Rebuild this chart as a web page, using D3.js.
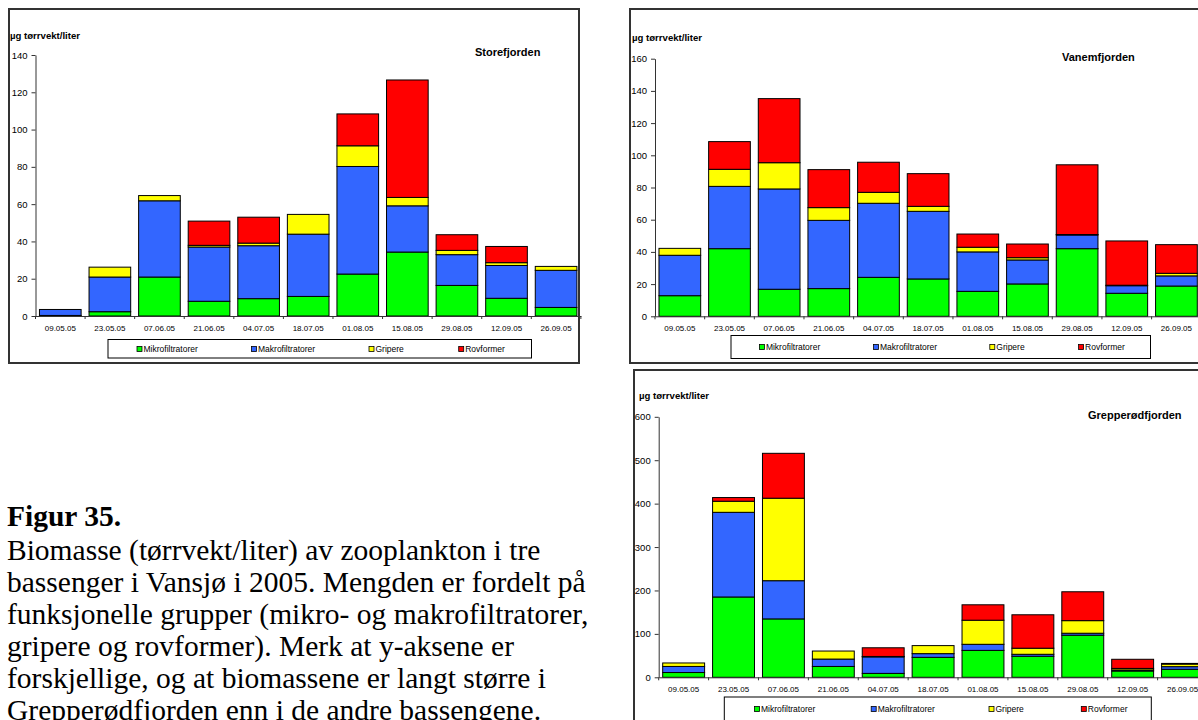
<!DOCTYPE html>
<html>
<head>
<meta charset="utf-8">
<script src="https://cdn.jsdelivr.net/npm/d3@7"></script>
<style>
  html, body { margin: 0; padding: 0; background: #fff; }
  svg { display: block; }
</style>
</head>
<body>
<script>
// ---------- DATA ----------
const dates = ["09.05.05","23.05.05","07.06.05","21.06.05","04.07.05","18.07.05","01.08.05","15.08.05","29.08.05","12.09.05","26.09.05"];
const groups = ["Mikrofiltratorer","Makrofiltratorer","Gripere","Rovformer"];
const groupColors = ["#00FF00","#3366FF","#FFFF00","#FF0000"];

// Storefjorden (µg tørrvekt/liter)
const storeMikro = [0.3, 2.3, 20.9, 7.9, 9.3, 10.5, 22.5, 34.3, 16.4, 9.5, 4.6];
const storeMakro = [3.2, 18.6, 40.9, 29.1, 28.4, 33.4, 57.7, 24.8, 16.5, 17.6, 19.9];
const storeGrip  = [0, 5.3, 2.8, 0.9, 1.4, 10.6, 11.1, 4.5, 2.3, 1.5, 2.1];
const storeRov   = [0, 0, 0, 13.0, 13.9, 0, 17.1, 63.0, 8.4, 8.7, 0];

// Vanemfjorden
const vanMikro = [12.8, 42.0, 16.8, 17.2, 24.2, 23.2, 15.5, 20.1, 42.0, 14.3, 18.8];
const vanMakro = [25.1, 38.7, 62.3, 42.4, 46.0, 42.0, 24.5, 14.9, 8.5, 4.7, 6.3];
const vanGrip  = [4.3, 10.6, 16.3, 7.9, 6.8, 3.1, 2.9, 1.4, 0.3, 0.3, 1.6];
const vanRov   = [0, 17.2, 39.8, 23.6, 18.7, 20.3, 8.2, 8.5, 43.3, 27.5, 17.8];

// Grepperødfjorden
const grMikro = [11, 185, 134.5, 25, 9, 46, 62, 48.5, 97, 14.5, 18.5];
const grMakro = [14, 195, 88, 17, 38, 8.5, 14, 4.5, 4.5, 2.5, 6];
const grGrip  = [8, 25.5, 190, 18.5, 1, 18.5, 55.5, 14, 29, 3.5, 6];
const grRov   = [0, 8.5, 103.4, 0, 20, 0, 35.5, 77, 66.5, 21, 1.5];

const storeTicks = [0,20,40,60,80,100,120,140];
const vanTicks = [0,20,40,60,80,100,120,140,160];
const grTicks = [0,100,200,300,400,500,600];

const yLabel = "µg tørrvekt/liter";
const captionTitle = "Figur 35.";
const captionLines = [
  "Biomasse (tørrvekt/liter) av zooplankton i tre",
  "bassenger i Vansjø i 2005. Mengden er fordelt på",
  "funksjonelle grupper (mikro- og makrofiltratorer,",
  "gripere og rovformer). Merk at y-aksene er",
  "forskjellige, og at biomassene er langt større i",
  "Grepperødfjorden enn i de andre bassengene."
];

// ---------- DRAW ----------
const W = 1198, H = 720;
const svg = d3.select("body").append("svg").attr("width", W).attr("height", H);
const SANS = "'Liberation Sans', Arial, sans-serif";

function chart(o) {
  const g = svg.append("g");
  g.append("rect")
    .attr("x", o.frame[0]).attr("y", o.frame[1])
    .attr("width", o.frame[2]).attr("height", o.frame[3])
    .attr("fill", "#fff").attr("stroke", "#333").attr("stroke-width", 2);

  const x = d3.scaleBand().domain(dates)
    .range([o.axisX, o.axisX + dates.length * o.step])
    .paddingInner(0.16).paddingOuter(0.08);
  const y = d3.scaleLinear().domain([0, o.ticks[o.ticks.length - 1]]).range([o.y0, o.yTop]);

  const rows = dates.map((d, i) => {
    const r = { date: d };
    groups.forEach((k, j) => r[k] = o.series[j][i]);
    return r;
  });
  const stacked = d3.stack().keys(groups)(rows);

  g.append("g").selectAll("g").data(stacked).join("g")
    .attr("fill", (d, i) => groupColors[i])
    .selectAll("rect").data(d => d.filter(s => s[1] - s[0] > 0)).join("rect")
    .attr("x", d => x(d.data.date))
    .attr("y", d => y(d[1]))
    .attr("width", x.bandwidth())
    .attr("height", d => y(d[0]) - y(d[1]))
    .attr("stroke", "#000").attr("stroke-width", 1);

  // y axis
  const ya = g.append("g").attr("transform", `translate(${o.axisX},0)`)
    .call(d3.axisLeft(y).tickValues(o.ticks).tickSize(4).tickSizeOuter(0).tickPadding(4));
  ya.select(".domain").attr("stroke", "#333");
  ya.selectAll(".tick line").attr("stroke", "#333");
  ya.selectAll("text").attr("font-family", SANS).attr("font-size", "9.5px").attr("fill", "#000");

  // x axis
  const xa = g.append("g").attr("transform", `translate(0,${o.y0})`)
    .call(d3.axisBottom(x).tickSize(0).tickSizeOuter(0).tickPadding(9));
  xa.select(".domain").attr("stroke", "#333");
  xa.selectAll("text").attr("font-family", SANS).attr("font-size", "8px").attr("fill", "#000");
  // category boundary ticks
  xa.append("g").selectAll("line").data(d3.range(dates.length + 1)).join("line")
    .attr("x1", i => x.range()[0] + i * x.step())
    .attr("x2", i => x.range()[0] + i * x.step())
    .attr("y1", 0).attr("y2", 3).attr("stroke", "#333");

  // axis title
  g.append("text").attr("x", o.ylab[0]).attr("y", o.ylab[1])
    .attr("font-family", SANS).attr("font-weight", "bold").attr("font-size", "9.6px")
    .text(yLabel);
  // chart title
  g.append("text").attr("x", o.title[0]).attr("y", o.title[1])
    .attr("font-family", SANS).attr("font-weight", "bold").attr("font-size", "11px")
    .text(o.name);

  // legend
  g.append("rect").attr("x", o.legBox[0]).attr("y", o.legBox[1])
    .attr("width", o.legBox[2]).attr("height", o.legBox[3])
    .attr("fill", "#fff").attr("stroke", "#000").attr("stroke-width", 1);
  const li = g.append("g").selectAll("g").data(groups).join("g")
    .attr("transform", (d, i) => `translate(${o.legX[i]},${o.legY})`);
  li.append("rect").attr("x", 0).attr("y", -2.5).attr("width", 5).attr("height", 5)
    .attr("fill", (d, i) => groupColors[i]).attr("stroke", "#000").attr("stroke-width", 0.8);
  li.append("text").attr("x", 6.5).attr("y", 0).attr("dy", "0.35em")
    .attr("font-family", SANS).attr("font-size", "8.5px").text(d => d);
}

chart({
  name: "Storefjorden",
  series: [storeMikro, storeMakro, storeGrip, storeRov],
  ticks: storeTicks,
  frame: [9, 9, 570, 354],
  axisX: 35.5, step: 49.58, y0: 316, yTop: 55,
  ylab: [10, 39], title: [475, 56],
  legBox: [108, 339.5, 423.5, 18.5], legX: [137, 251.5, 369, 458.7], legY: 349
});

chart({
  name: "Vanemfjorden",
  series: [vanMikro, vanMakro, vanGrip, vanRov],
  ticks: vanTicks,
  frame: [630, 9, 600, 354],
  axisX: 655, step: 49.66, y0: 316.3, yTop: 58.7,
  ylab: [632, 41], title: [1062, 61],
  legBox: [731, 335.5, 419.5, 23], legX: [759.4, 873.5, 989.8, 1078.6], legY: 347
});

chart({
  name: "Grepperødfjorden",
  series: [grMikro, grMakro, grGrip, grRov],
  ticks: grTicks,
  frame: [634, 370, 600, 380],
  axisX: 658.7, step: 49.89, y0: 677.3, yTop: 416.8,
  ylab: [639, 399], title: [1088, 419],
  legBox: [724.3, 697, 427, 40], legX: [754.5, 871.2, 989, 1081.3], legY: 709
});

// caption
const cap = svg.append("g").attr("font-family", "'Liberation Serif', 'Times New Roman', serif").attr("fill", "#000");
cap.append("text").attr("x", 7).attr("y", 526).attr("font-weight", "bold").attr("font-size", "29.5px").text(captionTitle);
cap.selectAll("text.l").data(captionLines).join("text").attr("class", "l")
  .attr("x", 7).attr("y", (d, i) => 560 + i * 32).attr("font-size", "29.5px").text(d => d);
</script>
</body>
</html>
